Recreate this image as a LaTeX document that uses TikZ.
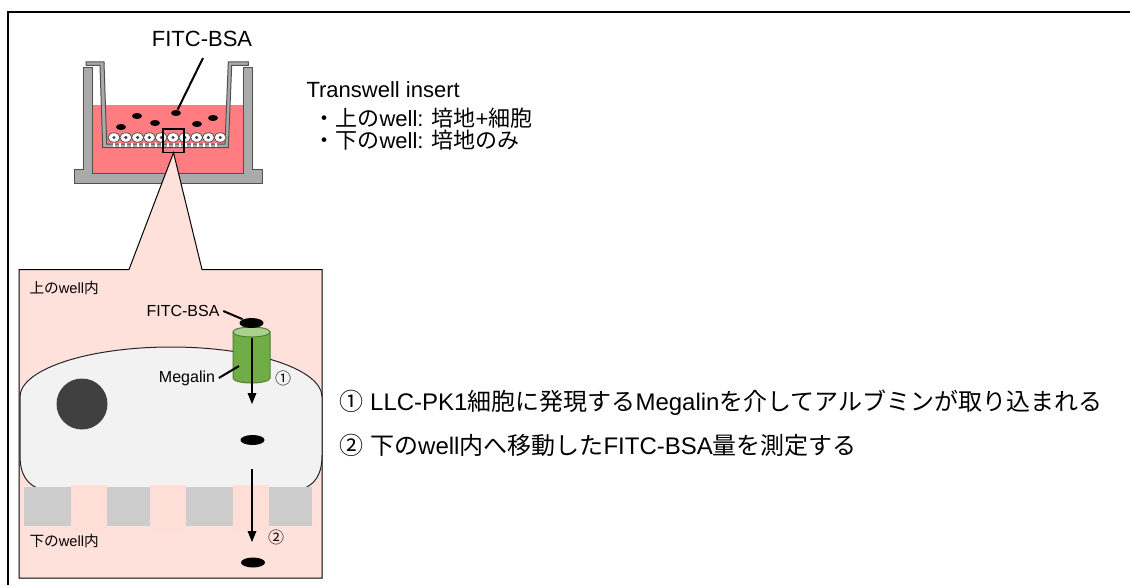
\documentclass[tikz,border=0pt]{standalone}
\usepackage{fontspec}
\setmainfont{Liberation Sans}
\newfontfamily\jp{Noto Sans CJK JP}
\usetikzlibrary{shapes.geometric}

\definecolor{medium}{RGB}{255,124,128}
\definecolor{wellgray}{RGB}{170,170,170}
\definecolor{wellline}{RGB}{80,80,80}
\definecolor{zoompink}{RGB}{255,225,220}
\definecolor{porepink}{RGB}{255,222,215}
\definecolor{cellgray}{RGB}{242,242,242}
\definecolor{nucleus}{RGB}{64,64,64}
\definecolor{filtergray}{RGB}{204,204,204}
\definecolor{megalin}{RGB}{112,173,71}
\definecolor{megalintop}{RGB}{169,209,142}
\definecolor{megalinline}{RGB}{80,126,50}

\tikzset{every picture/.style={line width=0.75pt}}
\tikzset{
  bsadot/.style={ellipse, fill=black, inner sep=0pt, minimum width=18pt, minimum height=7.5pt},
  bsasmall/.style={ellipse, fill=black, inner sep=0pt, minimum width=7.5pt, minimum height=4.5pt},
}

\begin{document}
\begin{tikzpicture}[x=0.75pt,y=0.75pt,yscale=-1,xscale=1]
\useasboundingbox (0,0) rectangle (1130,585);

%Straight Lines
\draw [line width=1.2]  (8,585) -- (8,12) -- (1130,12) ;

%Shape: Rectangle
\fill [medium] (92,105) rectangle (243,173) ;
%Shape: Polygon
\draw [draw=wellline, fill=wellgray] (83,68) -- (92,68) -- (92,173) -- (243,173) -- (243,68) -- (252,68) -- (252,169) -- (262,169) -- (262,183) -- (74,183) -- (74,169) -- (83,169) -- cycle ;
%Shape: Polygon
\draw [draw=wellline, fill=wellgray] (86,62) -- (104,62) -- (106.7,144) -- (225,144) -- (228.3,62) -- (248.3,62) -- (248.3,65.5) -- (231.7,65.5) -- (228.3,147.5) -- (102.7,147.5) -- (100,65.5) -- (86,65.5) -- cycle ;
\foreach \x in {113,119,...,215} \fill [white] (\x,142.5) rectangle ++(2,4) ;
%Shape: Ellipse
\foreach \i in {0,...,9} {
  \draw [fill=white, draw=wellline, line width=0.6] ({114+11.8*\i},137.5) ellipse (6 and 4.7) ;
  \fill [nucleus] ({114+11.8*\i},137.5) circle (1.7) ;
}
\foreach \x/\y in {137/116, 155/123, 121/127, 197/124, 213/118} \fill (\x,\y) ellipse (5 and 3) ;
\node [bsasmall] (bsaTop) at (176,113) {} ;

% Text Node
\draw (202,39) node [inner sep=0.75pt] (lblTop) {\fontsize{16.5}{20}\selectfont FITC-BSA};
\coordinate (ldTop) at (203,58) ;
\draw [line width=1.5]  (ldTop) -- (bsaTop) ;

%Shape: Polygon
\draw [fill=zoompink] (19,269.5) -- (129,269.5) -- (173.5,152.7) -- (202,269.5) -- (322,269.5) -- (322,578) -- (19,578) -- cycle ;
%Shape: Rectangle
\draw [line width=1]  (163,129) rectangle (184,152.7) ;

%Shape: Cell
\draw [fill=cellgray, draw=black!85] (20,455) -- (20,397) arc (180:360:151 and 50) -- (322,455) .. controls (322,475) and (315,485) .. (300,490) -- (42,490) .. controls (27,485) and (20,475) .. (20,455) -- cycle ;
%Shape: Circle
\fill [nucleus] (82,404) circle (25.5) ;

%Shape: Rectangle
\foreach \x in {71,150,233} \fill [porepink] (\x,485) rectangle ++(36,45) ;
\foreach \x/\w in {24/47,107/43,186/47,269/43} \fill [filtergray] (\x,487) rectangle ++(\w,39) ;

%Shape: Can
\draw [draw=megalinline, fill=megalin] (233,332) -- (233,378) arc (180:0:18.5 and 5) -- (270,332) -- cycle ;
\draw [draw=megalinline, fill=megalintop] (251.5,332) ellipse (18.5 and 5) ;

\node [bsadot] (bsaMeg) at (251.5,323) {} ;
\node [bsadot] (bsaCell) at (252.5,440) {} ;
\node [bsadot] (bsaLow) at (253,562.5) {} ;

%Straight Lines
\coordinate (a1s) at (252,338) ;
\coordinate (a1e) at (252,394) ;
\coordinate (a1t) at (252,404) ;
\draw [line width=2]  (a1s) -- (a1e) ;
\draw [shift={(a1t)}, rotate=270] [fill=black][line width=0.08] [draw opacity=0] (11,-4.5) -- (0,0) -- (11,4.5) -- cycle ;
%Straight Lines
\coordinate (a2s) at (252,469) ;
\coordinate (a2e) at (252,532) ;
\coordinate (a2t) at (252,542) ;
\draw [line width=2]  (a2s) -- (a2e) ;
\draw [shift={(a2t)}, rotate=270] [fill=black][line width=0.08] [draw opacity=0] (11,-4.5) -- (0,0) -- (11,4.5) -- cycle ;

% Text Node
\draw (28,288) node [anchor=west][inner sep=0.75pt] (lblUpWell) {\fontsize{11}{13}\selectfont {\jp 上の}well{\jp 内}};
% Text Node
\draw (28,541) node [anchor=west][inner sep=0.75pt] (lblLowWell) {\fontsize{11}{13}\selectfont {\jp 下の}well{\jp 内}};
% Text Node
\draw (183,311) node [inner sep=2.5pt] (lblBsa) {\fontsize{12}{14}\selectfont FITC-BSA};
\draw [line width=1.5]  (lblBsa.east) -- (bsaMeg) ;
% Text Node
\draw (187,378) node [inner sep=2.5pt] (lblMeg) {\fontsize{12}{14}\selectfont Megalin};
\coordinate (megIn) at (239,366) ;
\draw [line width=1.5]  (lblMeg.east) -- (megIn) ;
% Text Node
\draw (283,378) node [inner sep=0.75pt] (stepA) {\fontsize{12}{14}\selectfont\jp ①};
\draw (276,537) node [inner sep=0.75pt] (stepB) {\fontsize{12}{14}\selectfont\jp ②};

% Text Node
\draw (305,90) node [anchor=west][inner sep=0.75pt] (lblInsert) {\fontsize{16.5}{20}\selectfont Transwell insert};
\draw (312,118) node [anchor=west][inner sep=0.75pt] (lblUpper) {\fontsize{16.5}{20}\selectfont {\jp ・上の}well: {\jp 培地}+{\jp 細胞}};
\draw (312,140) node [anchor=west][inner sep=0.75pt] (lblLower) {\fontsize{16.5}{20}\selectfont {\jp ・下の}well: {\jp 培地のみ}};

% Text Node
\draw (338,403) node [anchor=west][inner sep=0.75pt] (noteA) {\fontsize{18}{22}\selectfont {\jp ①} LLC-PK1{\jp 細胞に発現する}Megalin{\jp を介してアルブミンが取り込まれる}};
\draw (338,445) node [anchor=west][inner sep=0.75pt] (noteB) {\fontsize{18}{22}\selectfont {\jp ②} {\jp 下の}well{\jp 内へ移動した}FITC-BSA{\jp 量を測定する}};

\end{tikzpicture}
\end{document}
